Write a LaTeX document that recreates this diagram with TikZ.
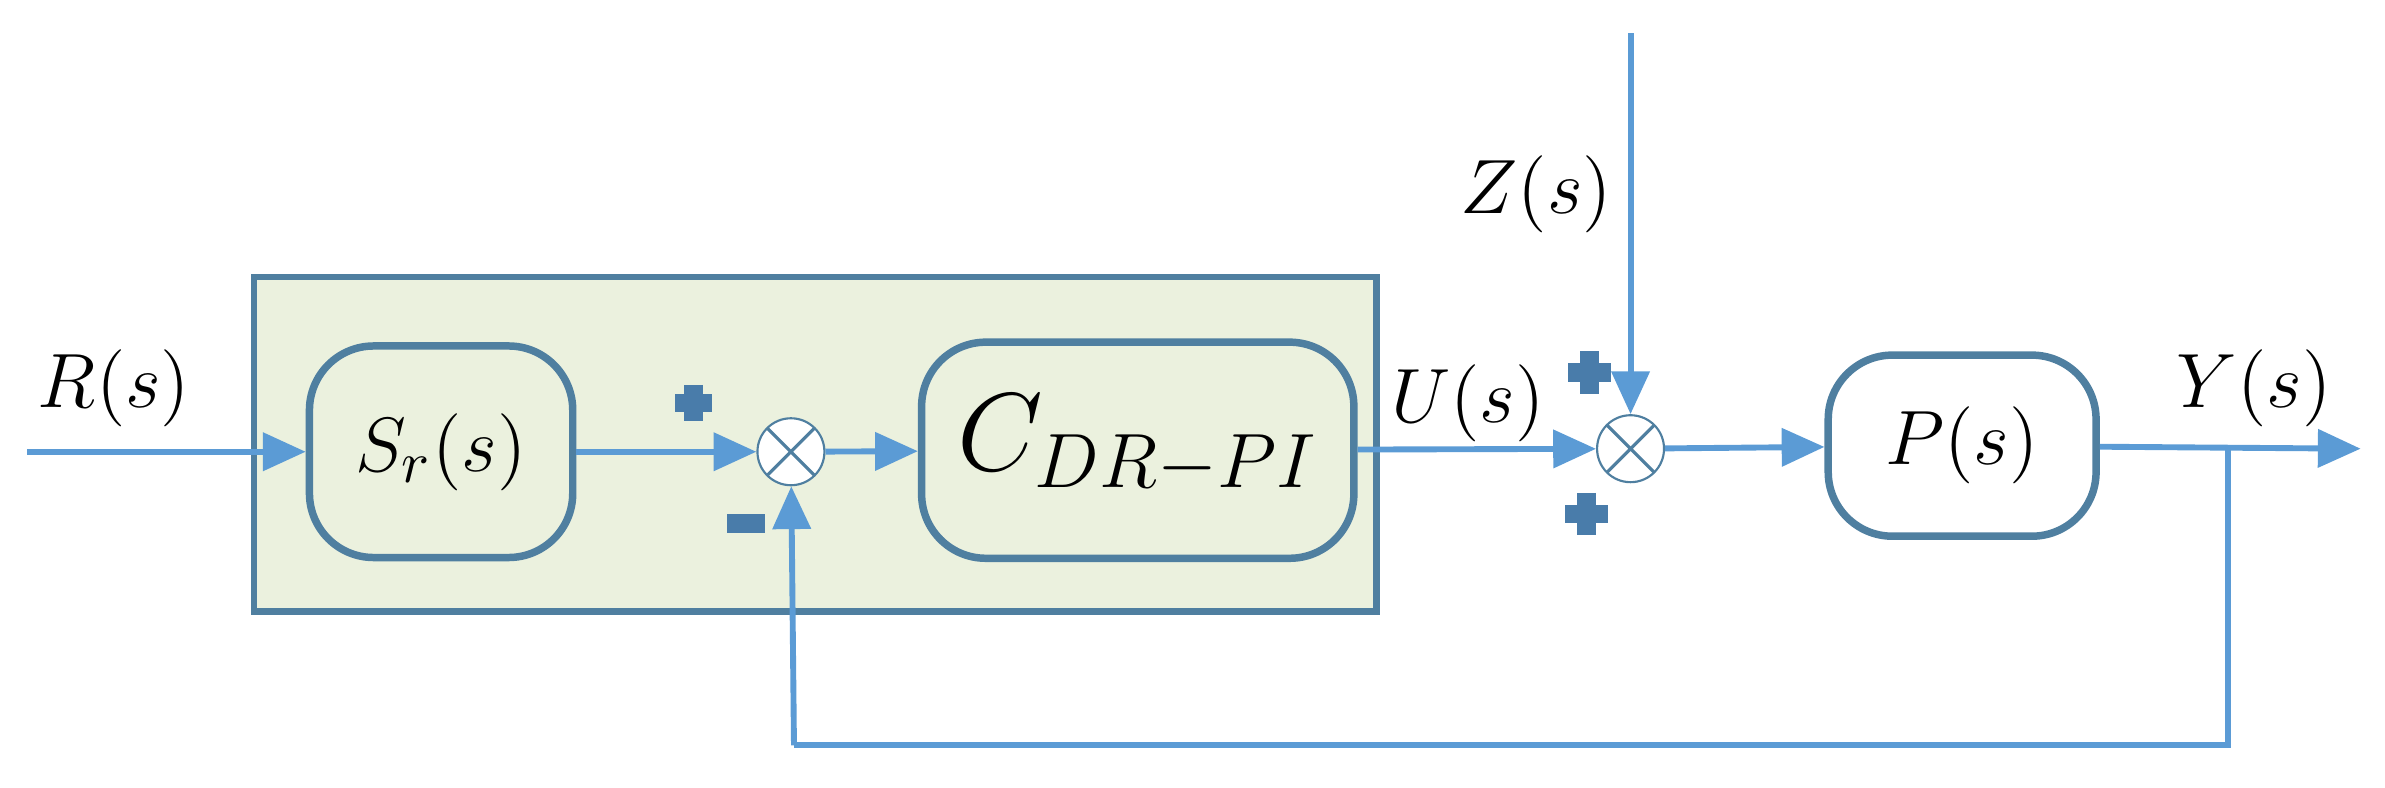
\documentclass[tikz,border=0pt]{standalone}
\usepackage{amsmath, amssymb}
\usepackage{xcolor}
\usetikzlibrary{arrows.meta}
\definecolor{sigblue}{HTML}{5B9BD5}
\definecolor{boxedge}{HTML}{4F7FA0}
\definecolor{boxfill}{HTML}{EBF1DE}
\tikzset{
  blk/.style={draw=boxedge, line width=1.4pt, fill=boxfill, rounded corners=12pt},
  summer/.style={draw=boxedge, circle, minimum size=0.44cm, inner sep=0pt, fill=white, path picture={
      \draw[boxedge, line width=0.6pt] (path picture bounding box.south west) -- (path picture bounding box.north east)
      (path picture bounding box.north west) -- (path picture bounding box.south east);}},
  sig/.style={draw=sigblue, line width=1.1pt, -{Triangle[length=8pt,width=7pt]}},
  wire/.style={draw=sigblue, line width=1.1pt},
  lbl/.style={font=\fontsize{15}{18}\selectfont},
  sgn/.style={draw=sigblue!80!black, line width=3.5pt}
}
\begin{document}
\begin{tikzpicture}[x=0.01cm, y=-0.01cm]
            \useasboundingbox (0,0) rectangle (1568,518);
            \draw[draw=boxedge, line width=1.2pt, fill=boxfill] (167,182) rectangle (905,402);

            \node[blk, minimum width=1.73cm, minimum height=1.39cm] (sr) at (290,297) {};
            \node[lbl] at (sr) {$S_r(s)$};
            \node[blk, minimum width=2.84cm, minimum height=1.42cm] (c) at (748,296) {};
            \node[font=\fontsize{22}{26}\selectfont] at (748,292) {$C_{DR-PI}$};
            \node[blk, fill=white, minimum width=1.76cm, minimum height=1.19cm] (p) at (1290,293) {};
            \node[lbl] at (p) {$P(s)$};
            \node[summer] (s1) at (520,297) {};
            \node[summer] (s2) at (1072,295) {};

            \coordinate (rin) at (18,297);
            \coordinate (zin) at (1072,22);
            \coordinate (yout) at (1552,295);
            \coordinate (br) at (1465,295);
            \coordinate (brd) at (1465,490);
            \coordinate (bl) at (522,490);

            \draw[sig] (rin) -- (sr);
            \draw[sig] (sr) -- (s1);
            \draw[sig] (s1) -- (c);
            \draw[sig] (c) -- (s2);
            \draw[sig] (zin) -- (s2);
            \draw[sig] (s2) -- (p);
            \draw[sig] (p) -- (yout);
            \draw[wire] (br) -- (brd) -- (bl);
            \draw[sig] (bl) -- (s1);

            \node[lbl] (rl) at (75,255) {$R(s)$};
            \node[lbl] (ul) at (965,265) {$U(s)$};
            \node[lbl] (zl) at (1010,128) {$Z(s)$};
            \node[lbl] (yl) at (1482,255) {$Y(s)$};

            \draw[sgn] (444,265) -- (468,265) (456,253) -- (456,277); % +
            \draw[sgn] (1031,245) -- (1059,245) (1045,231) -- (1045,259); % +
            \draw[sgn] (1029,338) -- (1057,338) (1043,324) -- (1043,352); % +
            \draw[sgn] (478,344) -- (503,344); % -
        \end{tikzpicture}
\end{document}
